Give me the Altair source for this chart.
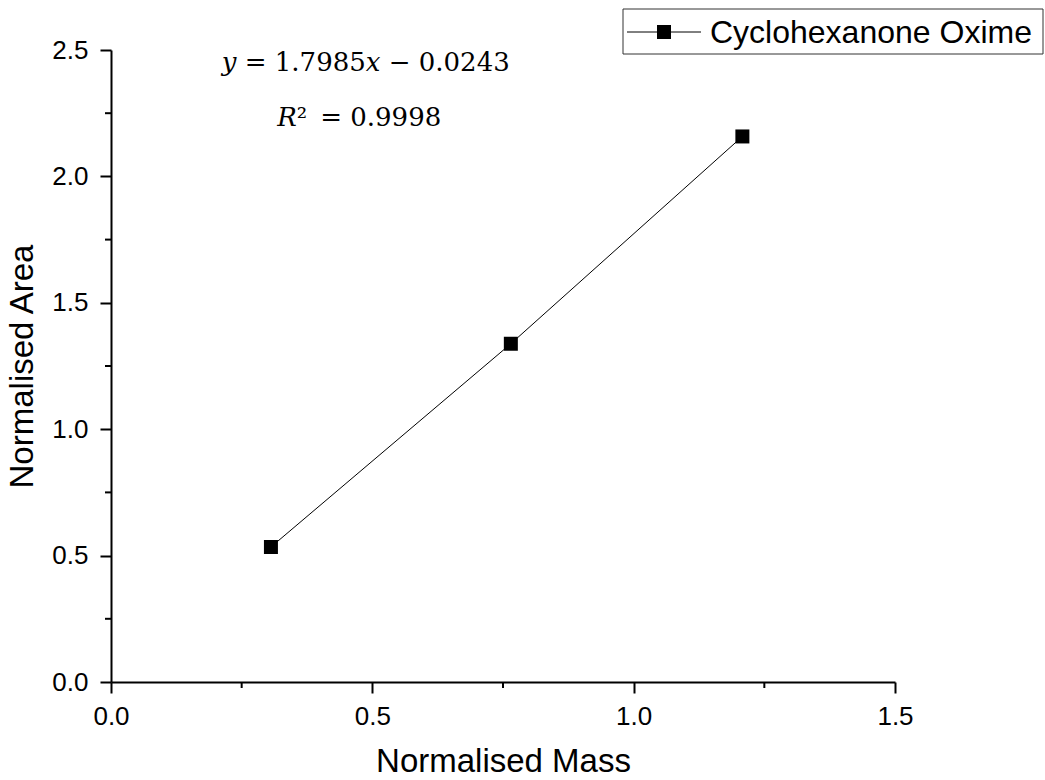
import altair as alt
import pandas as pd

# Calibration points: normalised mass vs normalised peak area
mass = [0.306, 0.765, 1.208]
area = [0.534, 1.338, 2.158]

x_major = [0.0, 0.5, 1.0, 1.5]
y_major = [0.0, 0.5, 1.0, 1.5, 2.0, 2.5]
x_minor = [0.25, 0.75, 1.25]
y_minor = [0.25, 0.75, 1.25, 1.75, 2.25]

series_name = "Cyclohexanone Oxime"
fit_text = "𝑦 = 1.7985𝑥 −  0.0243"
r2_text = "𝑅²\u2002= 0.9998"

W, H = 784, 632
SANS = "Liberation Sans"

df = pd.DataFrame({"mass": mass, "area": area})
one = pd.DataFrame({"k": [0]})

xs = alt.Scale(domain=[0, 1.5], nice=False, zero=False)
ys = alt.Scale(domain=[0, 2.5], nice=False, zero=False)

axis_style = dict(grid=False, format=".1f",
                  domainColor="black", domainWidth=2, tickColor="black", tickWidth=2,
                  tickSize=11, labelFontSize=26, labelFont=SANS, labelColor="black",
                  labelFlush=False, titleFontSize=33, titleFont=SANS,
                  titleFontWeight="normal", titleColor="black")
x_axis = alt.Axis(values=x_major, title="Normalised Mass", labelPadding=10, titlePadding=16, **axis_style)
y_axis = alt.Axis(values=y_major, title="Normalised Area", labelPadding=12, titlePadding=12, **axis_style)

base = alt.Chart(df)
line = base.mark_line(color="black", strokeWidth=1).encode(
    x=alt.X("mass:Q", scale=xs, axis=x_axis),
    y=alt.Y("area:Q", scale=ys, axis=y_axis),
)
pts = base.mark_point(shape="square", filled=True, size=196, color="black", opacity=1).encode(
    x=alt.X("mass:Q", scale=xs),
    y=alt.Y("area:Q", scale=ys),
)

# minor ticks on both axes
xmin = alt.Chart(pd.DataFrame({"v": x_minor})).mark_rule(color="black", strokeWidth=2).encode(
    x=alt.X("v:Q", scale=xs), y=alt.value(H), y2=alt.value(H + 6)
)
ymin = alt.Chart(pd.DataFrame({"v": y_minor})).mark_rule(color="black", strokeWidth=2).encode(
    y=alt.Y("v:Q", scale=ys), x=alt.value(0), x2=alt.value(-6)
)

# fit equation annotations
eq = alt.Chart(pd.DataFrame({"x": [0.212, 0.318], "y": [2.45, 2.23], "t": [fit_text, r2_text]})).mark_text(
    align="left", baseline="middle", font="DejaVu Serif", fontSize=26, color="black"
).encode(x=alt.X("x:Q", scale=xs), y=alt.Y("y:Q", scale=ys), text="t:N")

# legend box
leg_box = alt.Chart(one).mark_rect(fill="white", stroke="#333333", strokeWidth=1).encode(
    x=alt.value(512), x2=alt.value(932), y=alt.value(-41), y2=alt.value(4)
)
leg_line = alt.Chart(one).mark_rule(color="black", strokeWidth=1).encode(
    x=alt.value(516), x2=alt.value(590), y=alt.value(-18)
)
leg_sym = alt.Chart(one).mark_point(shape="square", filled=True, size=196, color="black", opacity=1).encode(
    x=alt.value(553), y=alt.value(-18)
)
leg_txt = alt.Chart(one).mark_text(
    align="left", baseline="middle", font=SANS, fontSize=32, color="black", text=series_name
).encode(x=alt.value(599), y=alt.value(-17))

chart = alt.layer(line, pts, xmin, ymin, eq, leg_box, leg_line, leg_sym, leg_txt).properties(
    width=W, height=H,
    autosize=alt.AutoSizeParams(type="none"),
    padding={"left": 111, "top": 50, "right": 150, "bottom": 98},
    background="white",
).configure_view(strokeWidth=0)

chart.save("out.html", embed_options={"renderer": "svg", "actions": False})
